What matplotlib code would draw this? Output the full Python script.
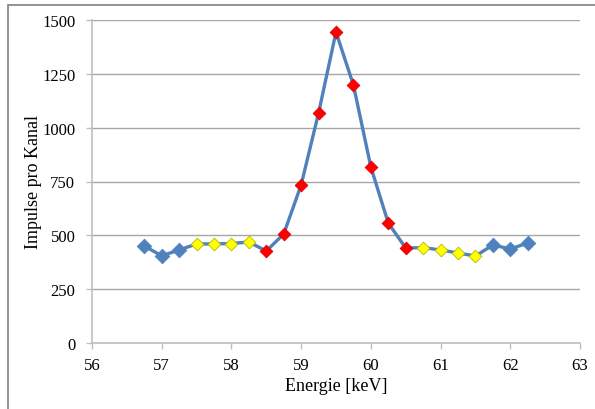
import matplotlib
matplotlib.use("Agg")
from matplotlib import pyplot as plt
from matplotlib.patches import Rectangle
import numpy as np

# Messwerte
energie = [56.75, 57.0, 57.25, 57.5, 57.75, 58.0, 58.25, 58.5, 58.75, 59.0,
           59.25, 59.5, 59.75, 60.0, 60.25, 60.5, 60.75, 61.0, 61.25, 61.5,
           61.75, 62.0, 62.25]
impulse = [450, 405, 432, 460, 460, 462, 469, 427, 506, 734,
           1068, 1444, 1198, 817, 557, 441, 443, 432, 418, 404,
           455, 437, 464]
# Bereich je Messpunkt: R = Rand, U = Untergrund, P = Peak
bereich = ['R', 'R', 'R', 'U', 'U', 'U', 'U', 'P', 'P', 'P',
           'P', 'P', 'P', 'P', 'P', 'P', 'U', 'U', 'U', 'U',
           'R', 'R', 'R']

x_ticks = [56, 57, 58, 59, 60, 61, 62, 63]
y_ticks = [0, 250, 500, 750, 1000, 1250, 1500]

plt.rcParams['font.family'] = ['Liberation Serif', 'DejaVu Serif']

blue = '#4F81BD'
styles = {
    'R': dict(color=blue, edgecolor=blue, s=55),
    'U': dict(color='#FFFF00', edgecolor='#B8B800', s=42),
    'P': dict(color='#FF0000', edgecolor='#E00000', s=42),
}

fig = plt.figure(figsize=(5.95, 4.10), dpi=100)
ax = fig.add_axes([92 / 595, 1 - 344 / 410, 488 / 595, 323 / 410])

# Rahmen um das Diagramm (rechts/unten abgeschnitten)
fig.patches.append(Rectangle((8 / 595, -0.1), 1.2, 1 - 6 / 410 + 0.1,
                             transform=fig.transFigure, fill=False,
                             edgecolor='#808080', linewidth=1.2))

ax.plot(energie, impulse, color=blue, linewidth=2.4, zorder=3)
e = np.array(energie)
v = np.array(impulse)
b = np.array(bereich)
for key, st in styles.items():
    m = b == key
    ax.scatter(e[m], v[m], marker='D', linewidths=0.6, zorder=4, **st)

ax.set_xlim(56, 63)
ax.set_ylim(0, 1500)
ax.set_xticks(x_ticks)
ax.set_yticks(y_ticks)
ax.yaxis.grid(True, color='#A6A6A6', linewidth=1.0)
ax.set_axisbelow(True)
for s in ['top', 'right']:
    ax.spines[s].set_visible(False)
for s in ['left', 'bottom']:
    ax.spines[s].set_color('#BFBFBF')
    ax.spines[s].set_linewidth(1.2)
ax.tick_params(axis='both', colors='#BFBFBF', labelcolor='black',
               length=4, width=1.0, labelsize=12)
ax.tick_params(axis='y', pad=8)
ax.tick_params(axis='x', pad=6)

ax.set_xlabel('Energie [keV]', fontsize=13, va='center')
ax.set_ylabel('Impulse pro Kanal', fontsize=13, va='center')
ax.xaxis.set_label_coords(0.5, -(387 - 344) / 323)
ax.yaxis.set_label_coords(-(92 - 34) / 488, 0.5)

fig.savefig('out.png', dpi=100)
